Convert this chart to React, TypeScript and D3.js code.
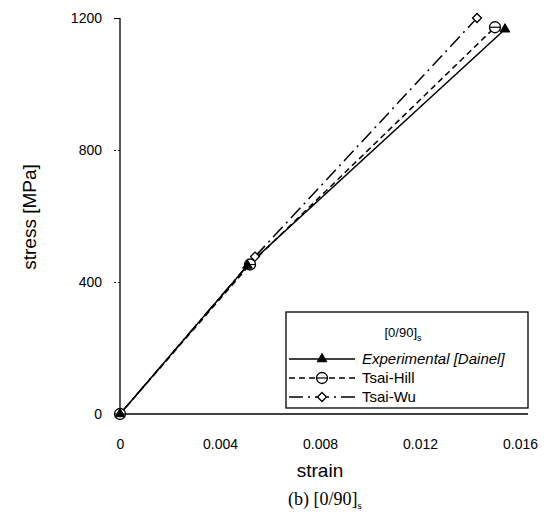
import React, { useEffect, useRef } from 'react';
import * as d3 from 'd3';

// strain / stress readings for each curve
const expStrain = [0, 0.0051, 0.0154];
const expStress = [0, 450, 1166];
const hillStrain = [0, 0.0052, 0.015];
const hillStress = [0, 453, 1172];
const wuStrain = [0, 0.0054, 0.01428];
const wuStress = [0, 477, 1200];

const xTicks = [0, 0.004, 0.008, 0.012, 0.016];
const yTicks = [0, 400, 800, 1200];
const seriesNames = ['Experimental [Dainel]', 'Tsai-Hill', 'Tsai-Wu'];

const W = 558;
const H = 518;
const FONT = 'Arial, "Liberation Sans", sans-serif';

const App = () => {
  const ref = useRef<SVGSVGElement>(null);

  useEffect(() => {
    const svg = d3.select(ref.current);
    svg.selectAll('*').remove();

    const x = d3.scaleLinear().domain([0, 0.016]).range([120, 520]);
    const y = d3.scaleLinear().domain([0, 1200]).range([414, 18]);

    // axes
    svg.append('line')
      .attr('x1', x(0)).attr('x2', 528)
      .attr('y1', y(0)).attr('y2', y(0))
      .attr('stroke', '#000').attr('stroke-width', 1.3);
    svg.append('line')
      .attr('x1', x(0)).attr('x2', x(0))
      .attr('y1', y(0)).attr('y2', y(1200))
      .attr('stroke', '#000').attr('stroke-width', 1.3);

    const xAxis = svg.append('g')
      .attr('transform', `translate(0,${y(0)})`)
      .call(d3.axisBottom(x).tickValues(xTicks).tickSize(0).tickPadding(25)
        .tickFormat((d) => (d === 0 ? '0' : d3.format('.3f')(d as number))));
    xAxis.select('.domain').remove();
    xAxis.selectAll('text').attr('font-size', 14).attr('font-family', FONT).attr('fill', '#000');

    const yAxis = svg.append('g')
      .attr('transform', `translate(${x(0)},0)`)
      .call(d3.axisLeft(y).tickValues(yTicks).tickSize(6).tickPadding(12).tickFormat(d3.format('d')));
    yAxis.select('.domain').remove();
    yAxis.selectAll('line')
      .attr('stroke', '#000')
      .attr('stroke-dasharray', (d) => (d === 400 || d === 800 ? '2,2' : null));
    yAxis.selectAll('text').attr('font-size', 14).attr('font-family', FONT).attr('fill', '#000');

    // axis titles
    svg.append('text')
      .attr('x', 320).attr('y', 477)
      .attr('text-anchor', 'middle')
      .attr('font-size', 19).attr('font-family', FONT)
      .text('strain');
    svg.append('text')
      .attr('transform', 'translate(36,217) rotate(-90)')
      .attr('text-anchor', 'middle')
      .attr('font-size', 19).attr('font-family', FONT)
      .text('stress [MPa]');

    const series = [
      { sx: expStrain, sy: expStress, dash: null, sym: 'tri' },
      { sx: hillStrain, sy: hillStress, dash: '6,4', sym: 'circ' },
      { sx: wuStrain, sy: wuStress, dash: '14,5,2,5', sym: 'diam' },
    ];

    const drawMarker = (g: any, cx: number, cy: number, sym: string) => {
      if (sym === 'tri') {
        g.append('path')
          .attr('d', d3.symbol(d3.symbolTriangle, 40)())
          .attr('transform', `translate(${cx},${cy})`)
          .attr('fill', '#000').attr('stroke', '#000');
      } else if (sym === 'circ') {
        g.append('circle')
          .attr('cx', cx).attr('cy', cy).attr('r', 5.5)
          .attr('fill', '#fff').attr('stroke', '#000').attr('stroke-width', 1.3);
        g.append('line')
          .attr('x1', cx - 5.5).attr('x2', cx + 5.5)
          .attr('y1', cy).attr('y2', cy)
          .attr('stroke', '#000').attr('stroke-width', 1.2);
      } else {
        g.append('path')
          .attr('d', d3.symbol(d3.symbolSquare, 40)())
          .attr('transform', `translate(${cx},${cy}) rotate(45)`)
          .attr('fill', '#fff').attr('stroke', '#000').attr('stroke-width', 1.3);
      }
    };

    series.forEach((s) => {
      const pts = s.sx.map((v, i) => [x(v), y(s.sy[i])] as [number, number]);
      svg.append('path')
        .attr('d', d3.line()(pts))
        .attr('fill', 'none')
        .attr('stroke', '#000')
        .attr('stroke-width', 1.5)
        .attr('stroke-dasharray', s.dash);
    });
    series.slice().reverse().forEach((s) => {
      const g = svg.append('g');
      s.sx.forEach((v, i) => drawMarker(g, x(v), y(s.sy[i]), s.sym));
    });

    // legend
    const lg = svg.append('g');
    lg.append('rect')
      .attr('x', 286).attr('y', 312).attr('width', 242).attr('height', 96)
      .attr('fill', '#fff').attr('stroke', '#000').attr('stroke-width', 1.3);
    const title = lg.append('text')
      .attr('x', 403).attr('y', 337)
      .attr('text-anchor', 'middle')
      .attr('font-size', 13).attr('font-family', FONT);
    title.append('tspan').text('[0/90]');
    title.append('tspan').attr('font-size', 9).attr('dy', 4).text('s');

    const rowY = [359, 378, 397];
    series.forEach((s, i) => {
      lg.append('line')
        .attr('x1', 289).attr('x2', 355)
        .attr('y1', rowY[i]).attr('y2', rowY[i])
        .attr('stroke', '#000').attr('stroke-width', 1.5)
        .attr('stroke-dasharray', s.dash);
      drawMarker(lg, 322, rowY[i], s.sym);
      lg.append('text')
        .attr('x', 362).attr('y', rowY[i] + 5)
        .attr('font-size', 15).attr('font-family', FONT)
        .attr('font-style', i === 0 ? 'italic' : 'normal')
        .text(seriesNames[i]);
    });

    // caption
    const cap = svg.append('text')
      .attr('x', 325).attr('y', 505)
      .attr('text-anchor', 'middle')
      .attr('font-size', 18).attr('font-family', '"Liberation Serif", "Times New Roman", serif');
    cap.append('tspan').text('(b) [0/90]');
    cap.append('tspan').attr('font-size', 11).attr('dy', 4).text('s');
  }, []);

  return (
    <svg
      ref={ref}
      width={W}
      height={H}
      style={{ position: 'absolute', left: 0, top: 0, background: '#fff' }}
    />
  );
};

export default App;
